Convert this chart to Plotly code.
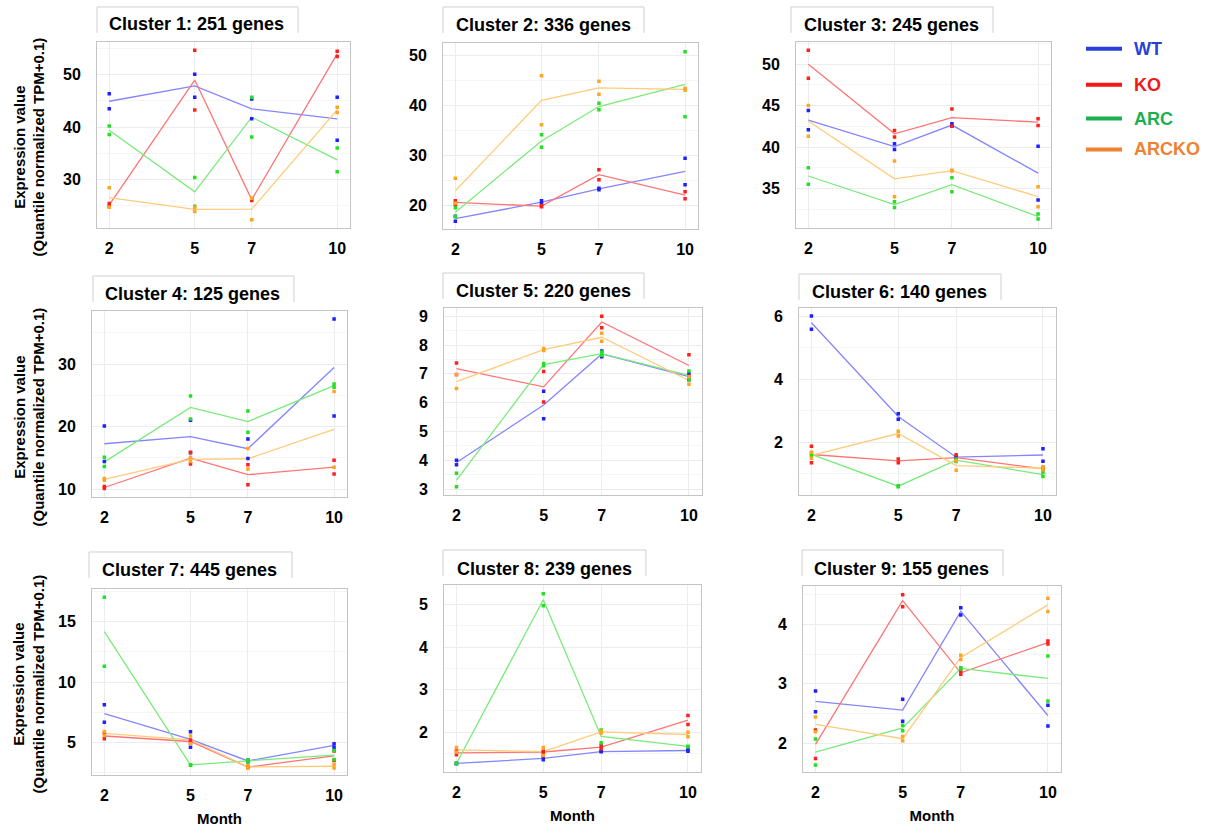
import numpy as np
import plotly.graph_objects as go

MONTHS = [2, 5, 7, 10]
GROUPS = ["WT", "KO", "ARC", "ARCKO"]
GENE_COUNTS = [251, 336, 245, 125, 220, 140, 445, 239, 155]

# replicate values per month (two replicates each)
CLUSTER_1 = {
    "WT": [[46.4, 43.5], [50.1, 45.7], [45.4, 41.6], [45.7, 37.5]],
    "KO": [[25.4, 24.9], [54.7, 43.3], [26.3, 26.0], [54.5, 53.5]],
    "ARC": [[40.2, 38.6], [30.4, 24.9], [45.7, 38.1], [36.0, 31.5]],
    "ARCKO": [[28.4, 24.7], [24.7, 23.9], [26.4, 22.3], [43.8, 42.8]],
}
CLUSTER_2 = {
    "WT": [[17.8, 16.8], [20.9, 20.3], [23.4, 23.1], [29.4, 24.1]],
    "KO": [[20.9, 20.2], [19.9, 19.7], [27.1, 25.1], [22.7, 21.3]],
    "ARC": [[19.5, 17.7], [34.1, 31.6], [40.4, 39.1], [50.7, 37.7]],
    "ARCKO": [[25.4, 20.4], [45.9, 36.1], [44.8, 42.2], [43.4, 43.0]],
}
CLUSTER_3 = {
    "WT": [[44.4, 42.1], [40.4, 39.7], [42.8, 42.5], [40.1, 33.6]],
    "KO": [[51.7, 48.3], [42.0, 41.2], [44.6, 42.5], [43.4, 42.6]],
    "ARC": [[37.5, 35.5], [33.4, 32.7], [36.3, 34.6], [31.9, 31.3]],
    "ARCKO": [[45.0, 41.3], [38.3, 34.0], [37.2, 37.1], [35.2, 32.8]],
}
CLUSTER_4 = {
    "WT": [[20.1, 14.4], [21.0, 15.8], [18.0, 14.9], [37.2, 21.7]],
    "KO": [[10.4, 10.1], [15.9, 14.0], [13.9, 10.7], [14.6, 12.4]],
    "ARC": [[15.1, 13.6], [24.9, 21.2], [22.5, 19.1], [26.8, 26.3]],
    "ARCKO": [[11.7, 11.4], [15.1, 14.4], [16.5, 13.2], [25.6, 13.5]],
}
CLUSTER_5 = {
    "WT": [[4.0, 3.85], [6.4, 5.44], [7.79, 7.59], [7.01, 6.8]],
    "KO": [[7.38, 6.98], [7.08, 6.02], [9.0, 8.6], [7.66, 6.92]],
    "ARC": [[3.55, 3.08], [7.36, 7.28], [7.76, 7.65], [7.1, 6.8]],
    "ARCKO": [[6.97, 6.49], [7.88, 7.81], [8.41, 8.13], [6.9, 6.64]],
}
CLUSTER_6 = {
    "WT": [[6.0, 5.58], [2.9, 2.73], [1.55, 1.5], [1.79, 1.4]],
    "KO": [[1.87, 1.35], [1.47, 1.35], [1.6, 1.42], [1.18, 1.13]],
    "ARC": [[1.64, 1.59], [0.62, 0.59], [1.47, 1.39], [1.04, 0.91]],
    "ARCKO": [[1.68, 1.49], [2.35, 2.2], [1.41, 1.11], [1.22, 1.13]],
}
CLUSTER_7 = {
    "WT": [[8.13, 6.68], [5.91, 4.62], [3.54, 3.43], [4.92, 4.62]],
    "KO": [[5.77, 5.33], [5.22, 4.97], [3.02, 2.94], [4.31, 3.52]],
    "ARC": [[17.03, 11.32], [3.18, 3.14], [3.56, 3.43], [4.35, 3.6]],
    "ARCKO": [[5.93, 5.6], [5.55, 4.9], [3.08, 2.91], [3.19, 2.91]],
}
CLUSTER_8 = {
    "WT": [[1.27, 1.26], [1.42, 1.35], [1.55, 1.54], [1.59, 1.55]],
    "KO": [[1.56, 1.47], [1.55, 1.52], [1.69, 1.61], [2.39, 2.18]],
    "ARC": [[1.27, 1.26], [5.25, 4.97], [2.05, 1.75], [1.67, 1.66]],
    "ARCKO": [[1.64, 1.53], [1.64, 1.45], [2.03, 1.98], [2.0, 1.89]],
}
CLUSTER_9 = {
    "WT": [[2.88, 2.53], [2.74, 2.37], [4.28, 4.16], [2.64, 2.29]],
    "KO": [[2.22, 1.74], [4.5, 4.3], [3.21, 3.16], [3.72, 3.67]],
    "ARC": [[2.07, 1.63], [2.3, 2.21], [3.27, 3.25], [3.47, 2.71]],
    "ARCKO": [[2.44, 2.19], [2.11, 2.04], [3.48, 3.41], [4.44, 4.22]],
}
CLUSTERS = [CLUSTER_1, CLUSTER_2, CLUSTER_3, CLUSTER_4, CLUSTER_5,
            CLUSTER_6, CLUSTER_7, CLUSTER_8, CLUSTER_9]

Y_TICKS = [
    [30, 40, 50], [20, 30, 40, 50], [35, 40, 45, 50],
    [10, 20, 30], [3, 4, 5, 6, 7, 8, 9], [2, 4, 6],
    [5, 10, 15], [2, 3, 4, 5], [2, 3, 4],
]

# ---------------- styling / layout ----------------
W, H = 1207, 829
POINT_COLORS = {"WT": "#1f1fff", "KO": "#ff1f1f", "ARC": "#22e022", "ARCKO": "#ffa51f"}
LINE_COLORS = {"WT": "#8585ff", "KO": "#ff7575", "ARC": "#7aea7a", "ARCKO": "#ffcb7a"}
LEGEND_COLORS = {"WT": "#2b3fd6", "KO": "#f01818", "ARC": "#1db050", "ARCKO": "#ef8132"}
FONT = "Liberation Sans"

# plot boxes in pixels: left, right, top, bottom
BOXES = [
    (97, 350, 42, 229), (443, 698, 43, 230), (796, 1051, 42, 229),
    (92, 347, 312, 499), (444, 702, 309, 497), (799, 1056, 309, 497),
    (92, 347, 591, 778), (444, 701, 587, 775), (803, 1061, 588, 775),
]
Y_RANGES = [
    (20.7, 56.3), (15.2, 52.5), (30.2, 52.7),
    (8.7, 38.5), (2.79, 9.29), (0.32, 6.26),
    (2.31, 17.72), (1.06, 5.46), (1.51, 4.65),
]
MINOR_STEP = [5, 5, 2.5, 5, 0.5, 1, 2.5, 0.5, 0.5]
# title boxes: left, right, top ; title text center x, y
TITLE_BOX = [
    (97, 298, 7, 196, 24), (443, 644, 7, 543, 25), (791, 993, 7, 891, 25),
    (93, 294, 277, 192, 295), (443, 644, 274, 543, 292), (799, 1001, 275, 899, 293),
    (89, 292, 554, 189, 572), (443, 646, 552, 544, 571), (802, 1003, 552, 901, 571),
]

def px(x):
    return x / W

def py(y):
    return 1 - y / H

fig = go.Figure()
layout = dict(
    width=W, height=H, margin=dict(l=0, r=0, t=0, b=0),
    paper_bgcolor="white", plot_bgcolor="white", showlegend=False,
    font=dict(family=FONT, color="black"),
)
shapes = []
annotations = []

for i, cl in enumerate(CLUSTERS):
    n = i + 1
    xa = "x" if n == 1 else f"x{n}"
    ya = "y" if n == 1 else f"y{n}"
    # mean lines
    for g in GROUPS:
        reps = np.array(cl[g])
        fig.add_trace(go.Scatter(
            x=MONTHS, y=reps.mean(axis=1), mode="lines", xaxis=xa, yaxis=ya,
            line=dict(color=LINE_COLORS[g], width=1.3), hoverinfo="skip"))
    # replicate points
    for g in GROUPS:
        xs, ys = [], []
        for m, vals in zip(MONTHS, cl[g]):
            for v in vals:
                xs.append(m)
                ys.append(v)
        fig.add_trace(go.Scatter(
            x=xs, y=ys, mode="markers", xaxis=xa, yaxis=ya,
            marker=dict(color=POINT_COLORS[g], size=3.5, symbol="square", line=dict(width=0))))

    l, r, t, b = BOXES[i]
    key_x = "xaxis" if n == 1 else f"xaxis{n}"
    key_y = "yaxis" if n == 1 else f"yaxis{n}"
    layout[key_x] = dict(
        domain=[px(l), px(r)], anchor=ya, range=[1.57, 10.45],
        tickvals=MONTHS, ticktext=[str(m) for m in MONTHS],
        tickfont=dict(size=16, family=FONT, weight="bold", color="black"),
        showgrid=True, gridcolor="#ececec", gridwidth=1, zeroline=False,
        showline=True, linecolor="#c4c4c4", linewidth=1, mirror=True,
        ticks="", ticklabelstandoff=6, fixedrange=True,
    )
    layout[key_y] = dict(
        domain=[py(b), py(t)], anchor=xa, range=list(Y_RANGES[i]),
        tickvals=Y_TICKS[i],
        tickfont=dict(size=16, family=FONT, weight="bold", color="black"),
        showgrid=True, gridcolor="#ececec", gridwidth=1, zeroline=False,
        minor=dict(dtick=MINOR_STEP[i], showgrid=True, gridcolor="#f5f5f5", gridwidth=1),
        showline=True, linecolor="#c4c4c4", linewidth=1, mirror=True,
        ticks="", ticklabelstandoff=12, fixedrange=True,
    )
    if n in (7, 8, 9):
        layout[key_x]["title"] = dict(
            text="Month", standoff=10,
            font=dict(size=15, family=FONT, weight="bold", color="black"))

    # title box and text
    bl, br, bt, tx, ty = TITLE_BOX[i]
    bb = bt + 26
    shapes.append(dict(
        type="path", xref="paper", yref="paper",
        path=f"M {px(bl)} {py(bb)} L {px(bl)} {py(bt)} L {px(br)} {py(bt)} L {px(br)} {py(bb)}",
        line=dict(color="#cfcfcf", width=1)))
    annotations.append(dict(
        text=f"Cluster {n}: {GENE_COUNTS[i]} genes", xref="paper", yref="paper",
        x=px(tx), y=py(ty), xanchor="center", yanchor="middle", showarrow=False,
        font=dict(size=18, family=FONT, weight="bold", color="black")))

# y axis titles for each row
for cy in (148, 419, 687):
    annotations.append(dict(
        text="Expression value<br>(Quantile normalized TPM+0.1)",
        xref="paper", yref="paper", x=px(29), y=py(cy), textangle=-90,
        xanchor="center", yanchor="middle", showarrow=False,
        font=dict(size=15, family=FONT, weight="bold", color="black")))

# legend drawn as lines and labels
LEGEND_Y = [49, 85, 119, 150]
for g, ly in zip(GROUPS, LEGEND_Y):
    shapes.append(dict(type="line", xref="paper", yref="paper",
                       x0=px(1086), x1=px(1122), y0=py(ly), y1=py(ly),
                       line=dict(color=LEGEND_COLORS[g], width=4)))
    annotations.append(dict(
        text=g, xref="paper", yref="paper", x=px(1132), y=py(ly),
        xanchor="left", yanchor="middle", showarrow=False,
        font=dict(size=18, family=FONT, weight="bold", color=LEGEND_COLORS[g])))

layout["shapes"] = shapes
layout["annotations"] = annotations
fig.update_layout(**layout)
fig.write_html("out.html")
